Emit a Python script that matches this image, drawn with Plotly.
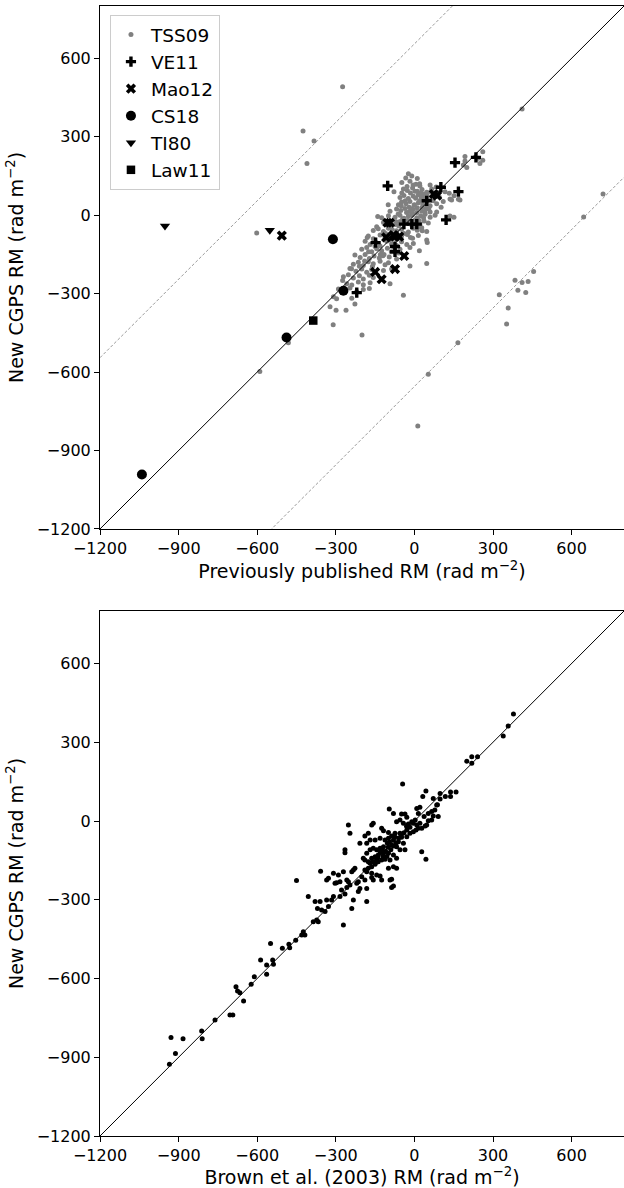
import plotly.graph_objects as go

# ---------------- axis setup ----------------
AX_RANGE = [-1200, 800]
TICKS = [-1200, -900, -600, -300, 0, 300, 600]
TICK_TEXT = [str(t).replace("-", "\u2212") for t in TICKS]
AMBIG = 655  # offset of the dashed n*pi ambiguity lines

# ---------------- top panel data ----------------
# TSS09 (grey dots) - main cluster
tss_core_x = [
    -23, 11, -10,
    -48, -17, 6, 21, 60, 83,
    -78, -42, -27, -7, 11, 29, 47, 66, 117, 133, 151,
    -55, -40, -23, -4, 15, 34, 49, 136,
    -61, -49, -32, -17, -1, 15, 32, 47, 60, 85, 110, 142, 168,
    -93, -68, -52, -36, -19, -4, 11, 28, 44, 60, 85, 136, 151,
    -125, -99, -74, -55, -40, -23, -7, 9, 24, 41, 60, 79,
    -144, -118, -74, -55, -29, -10, 6, 21, 37, 53,
    -157, -138, -118, -99, -68, -49, -23, -4, 11, 28, 47,
    -176, -157, -131, -112, -87, -68, -49, -27, -7, 15, 47,
    -188, -169, -146, -131, -106, -87, -68, -49, -29, -4, 49,
    -201, -182, -163, -144, -125, -103, -80, -55, -17, 19,
    -227, -207, -188, -172, -154, -134, -116, -96, -68, -42,
    -233, -214, -195, -176, -157, -131, -112, -99, -17, 47,
    -246, -223, -201, -182, -163, -118, -87,
    -271, -252, -233, -210, -195, -172, -157,
    -274, -258, -239, -214, -195, -169, -93,
    -290, -265, -246, -220, -195, -172,
    -309, -297, -42, -239,
    -261, -299, -227, -322, -310, -200, -481, -590,
]
tss_core_y = [
    158, 140, 150,
    125, 130, 118, 112, 115, 108,
    90, 100, 94, 104, 92, 98, 88, 100, 90, 84, 74,
    68, 75, 64, 72, 78, 66, 74, 62,
    40, 50, 44, 52, 38, 48, 42, 50, 36, 44, 52, 58, 61,
    15, 24, 18, 26, 14, 22, 28, 16, 24, 12, 12, -3, -8,
    -10, -2, -8, 0, -12, -4, 6, -10, -2, 4, -8, 0,
    -44, -28, -36, -24, -30, -38, -26, -34, -22, -30,
    -59, -52, -62, -50, -60, -54, -64, -50, -58, -48, -62,
    -80, -90, -76, -86, -78, -92, -80, -74, -88, -78, -95,
    -100, -112, -104, -118, -100, -110, -116, -102, -112, -108, -104,
    -130, -124, -140, -128, -136, -126, -140, -130, -124, -136,
    -152, -162, -150, -166, -156, -164, -150, -160, -168, -154,
    -188, -180, -192, -178, -186, -176, -190, -182, -194, -185,
    -204, -214, -206, -218, -208, -212, -206,
    -235, -228, -240, -232, -244, -230, -238,
    -250, -262, -267, -256, -266, -258, -262,
    -282, -290, -278, -292, -284, -280,
    -312, -320, -306, -318,
    -364, -364, -340, -350, -419, -458, -488, -598,
]
tss_dense_x = [-30, -20, -10, 0, 10, 20, 30, 40, 50, -45, -35, -15, 5, 25, 35, 45, 55,
               -25, -50, -60, 0, 15, 30, -40, -15, -85, -95, -110, -130, -150, -175, -190, -80, -60,
               -5, 20, 38, -28, 8, -62, -12, 26, -48, 70, -100, -140, -120, 62, -210, -240,
               -180, -160, 95, 102, 72, -33, 2, 18, -70, -88]
tss_dense_y = [10, 30, 0, 40, 10, 55, 30, 10, 60, -15, 55, 85, 65, 85, -10, 40, 25,
               -20, 35, -40, -20, -45, -60, -70, -85, -55, -95, -70, -150, -120, -140, -175, -120, -145,
               115, 120, 80, 110, -40, 5, 25, 70, 85, 75, 40, -5, -155, 90, -195, -205,
               -85, -195, 70, 30, 55, 142, 92, -20, -25, -140]
tss_out_x = [-274, -425, -383, -410, -602, 411, 193, 193, 187, 200, 261, 261, 250, 244, 174,
             720, 646, 455, 384, 411, 434, 395, 425, 324, 358, 352, 166, 53, 13]
tss_out_y = [491, 322, 284, 198, -68, 406, 224, 207, 192, 182, 243, 210, 198, 218, 58,
             81, -7, -215, -249, -257, -254, -287, -296, -304, -355, -416, -488, -608, -806]

ve_x = [155, 235, -102, 101, 168, 47, 121, -40, -10, 9, -148, -74, -74, -220]
ve_y = [201, 221, 112, 107, 90, 55, -18, -34, -34, -34, -105, -120, -140, -296]

mao_x = [74, 87, -103, -93, -108, -80, -74, -58, -39, -74, -150, -125, -506]
mao_y = [81, 75, -29, -29, -85, -76, -82, -82, -156, -206, -217, -245, -78]

cs_x = [-311, -271, -488, -1040]
cs_y = [-92, -289, -468, -992]

ti_x = [-952, -552]
ti_y = [-41, -58]

law_x = [-386]
law_y = [-403]

# ---------------- bottom panel data (Brown et al. 2003) ----------------
br_a_x = [-96, -80, -49, -36, -29, -55, -68, -42, -23, -10, 3, 9, 15, 21, 53, 72, 91, 85, 41, 47, 66]
br_a_y = [46, 29, 27, 27, 14, 4, -3, -9, -11, -3, 4, -15, -28, 52, 29, 19, 17, 61, -19, -15, 4]
br_b_x = [-4, -17, -29, -55, -74, -87, -99, -118, -125, -163, -157, -176, -189, -208, -182, -169,
          -150, -131, -112, -99, -80, -61, -42]
br_b_y = [-41, -47, -60, -47, -47, -57, -44, -37, -28, -15, -9, -47, -57, -85, -85, -72,
          -72, -66, -72, -66, -72, -79, -85]
br_c_x = [-36, -55, -68, -87, -103, -118, -131, -144, -157, -169, -182, -195, -189, -176, -163,
          -150, -138, -118, -99, -80, -68, -93, -112, -125, -138, -150, -163, -176, -189, -182,
          -163, -144, -131, -125, -93, -87, -99, -80, -68]
br_c_y = [-110, -110, -98, -91, -85, -98, -104, -110, -104, -110, -123, -142, -149, -155, -142,
          -136, -130, -123, -123, -130, -142, -149, -146, -149, -155, -161, -174, -180, -187, -193,
          -199, -206, -210, -225, -225, -222, -180, -174, -180]
br_d_x = [-252, -246, -265, -265, -227, -233, -239, -271, -290, -309, -328, -335, -358, -303,
          -297, -284, -258, -252, -246, -258, -278, -265, -284, -309, -316, -335, -328, -341,
          -354, -360, -370, -379, -373, -367, -386, -405, -424, -430, -418, -271]
br_d_y = [-15, -47, -110, -121, -180, -187, -193, -193, -206, -199, -218, -225, -191, -237,
          -235, -231, -225, -231, -244, -253, -263, -278, -288, -288, -301, -301, -326, -345,
          -339, -307, -333, -307, -377, -384, -384, -288, -422, -434, -434, -396]
br_e_x = [-233, -239, -182, -214, -208, -214, -220, -201, -189, -182, -163, -157, -87, -80,
          28, 44, -49, -29, -17, -4, 6, 21, 37, 53, 15, 9, 66, 78, 28]
br_e_y = [-301, -333, -307, -231, -257, -269, -237, -212, -225, -257, -215, -225, -253, -248,
          -117, -146, -62, -34, -24, -9, -34, -9, 17, 1, 29, 48, 36, 42, -28]
br_hi_x = [378, 358, 339, 219, 241, 200, 219, -45, 44, 32, 98, 138, 159, 138, 118, 72, 98, 88]
br_hi_y = [408, 362, 324, 245, 245, 228, 220, 141, 114, 93, 105, 110, 110, 93, 93, 86, 84, 62]
br_lo_x = [-450, -453, -476, -479, -504, -549, -541, -538, -564, -587, -611, -564, -623, -681,
           -675, -666, -652, -761, -704, -693, -812, -810, -883, -929, -912, -935]
br_lo_y = [-227, -454, -483, -470, -485, -467, -530, -546, -549, -530, -593, -584, -622, -631,
           -648, -654, -686, -758, -739, -739, -800, -830, -830, -825, -886, -927]
br_dense_x = [-140, -130, -120, -110, -100, -90, -80, -70, -60, -50, -160, -150, -170, -145,
              -125, -105, -95, -75, -40, -30]
br_dense_y = [-140, -120, -135, -115, -100, -110, -95, -85, -65, -55, -155, -165, -160, -150,
              -110, -135, -80, -60, -45, -20]

tss_x = tss_core_x + tss_dense_x + tss_out_x
tss_y = tss_core_y + tss_dense_y + tss_out_y
br_x = br_a_x + br_b_x + br_c_x + br_d_x + br_e_x + br_hi_x + br_lo_x + br_dense_x
br_y = br_a_y + br_b_y + br_c_y + br_d_y + br_e_y + br_hi_y + br_lo_y + br_dense_y
assert len(tss_x) == len(tss_y) and len(br_x) == len(br_y)

FONT = "DejaVu Sans"
GREY = "#808080"

fig = go.Figure()

# top panel
fig.add_trace(go.Scatter(x=tss_x, y=tss_y, mode="markers", name="TSS09",
                         marker=dict(color=GREY, size=5, line=dict(width=0)),
                         xaxis="x", yaxis="y"))
fig.add_trace(go.Scatter(x=AX_RANGE, y=AX_RANGE, mode="lines", showlegend=False,
                         line=dict(color="black", width=1), xaxis="x", yaxis="y"))
for sgn in (1, -1):
    fig.add_trace(go.Scatter(x=AX_RANGE, y=[v + sgn * AMBIG for v in AX_RANGE], mode="lines",
                             showlegend=False,
                             line=dict(color=GREY, width=0.8, dash="3px,2px"),
                             xaxis="x", yaxis="y"))

marker_sets = [
    ("VE11", ve_x, ve_y, "cross", 8.5),
    ("Mao12", mao_x, mao_y, "x", 9),
    ("CS18", cs_x, cs_y, "circle", 10),
    ("TI80", ti_x, ti_y, "triangle-down", 9),
    ("Law11", law_x, law_y, "square", 8.5),
]
for name, xs, ys, sym, sz in marker_sets:
    fig.add_trace(go.Scatter(x=xs, y=ys, mode="markers", name=name,
                             marker=dict(color="black", symbol=sym, size=sz, line=dict(width=0)),
                             xaxis="x", yaxis="y"))

# bottom panel
fig.add_trace(go.Scatter(x=AX_RANGE, y=AX_RANGE, mode="lines", showlegend=False,
                         line=dict(color="black", width=1), xaxis="x2", yaxis="y2"))
fig.add_trace(go.Scatter(x=br_x, y=br_y, mode="markers", showlegend=False,
                         marker=dict(color="black", size=5, line=dict(width=0)),
                         xaxis="x2", yaxis="y2"))

axis_common = dict(range=AX_RANGE, tickvals=TICKS, ticktext=TICK_TEXT, automargin=False,
                   showgrid=False, zeroline=False, showline=True, linecolor="black",
                   linewidth=1, ticks="outside", ticklen=5, tickwidth=1, tickcolor="black",
                   tickfont=dict(family=FONT, size=16, color="black"))

ytitle = "New CGPS RM (rad m<sup>\u22122</sup>)"

fig.update_layout(
    width=624, height=1188,
    margin=dict(l=100, r=0, t=6, b=52),
    paper_bgcolor="white", plot_bgcolor="white",
    font=dict(family=FONT, color="black"),
    xaxis=dict(axis_common, domain=[0, 1], anchor="y", mirror=True,
               title=dict(text="Previously published RM (rad m<sup>\u22122</sup>)",
                          font=dict(family=FONT, size=19), standoff=7)),
    yaxis=dict(axis_common, domain=[0.5372, 1], anchor="x",
               title=dict(text=ytitle, font=dict(family=FONT, size=19), standoff=8)),
    xaxis2=dict(axis_common, domain=[0, 1], anchor="y2", mirror=True,
                title=dict(text="Brown et al. (2003) RM (rad m<sup>\u22122</sup>)",
                           font=dict(family=FONT, size=19), standoff=6)),
    yaxis2=dict(axis_common, domain=[0, 0.4646], anchor="x2",
                title=dict(text=ytitle, font=dict(family=FONT, size=19), standoff=8)),
    legend=dict(x=0.019, y=0.992, xanchor="left", yanchor="top",
                bgcolor="rgba(255,255,255,0.8)", bordercolor="#cccccc", borderwidth=1,
                font=dict(family=FONT, size=18.5, color="black"), itemsizing="trace"),
    showlegend=True,
)

fig.write_html("out.html", config={"displayModeBar": False},
               post_script="document.body.style.margin='0';document.body.style.overflow='hidden';")
